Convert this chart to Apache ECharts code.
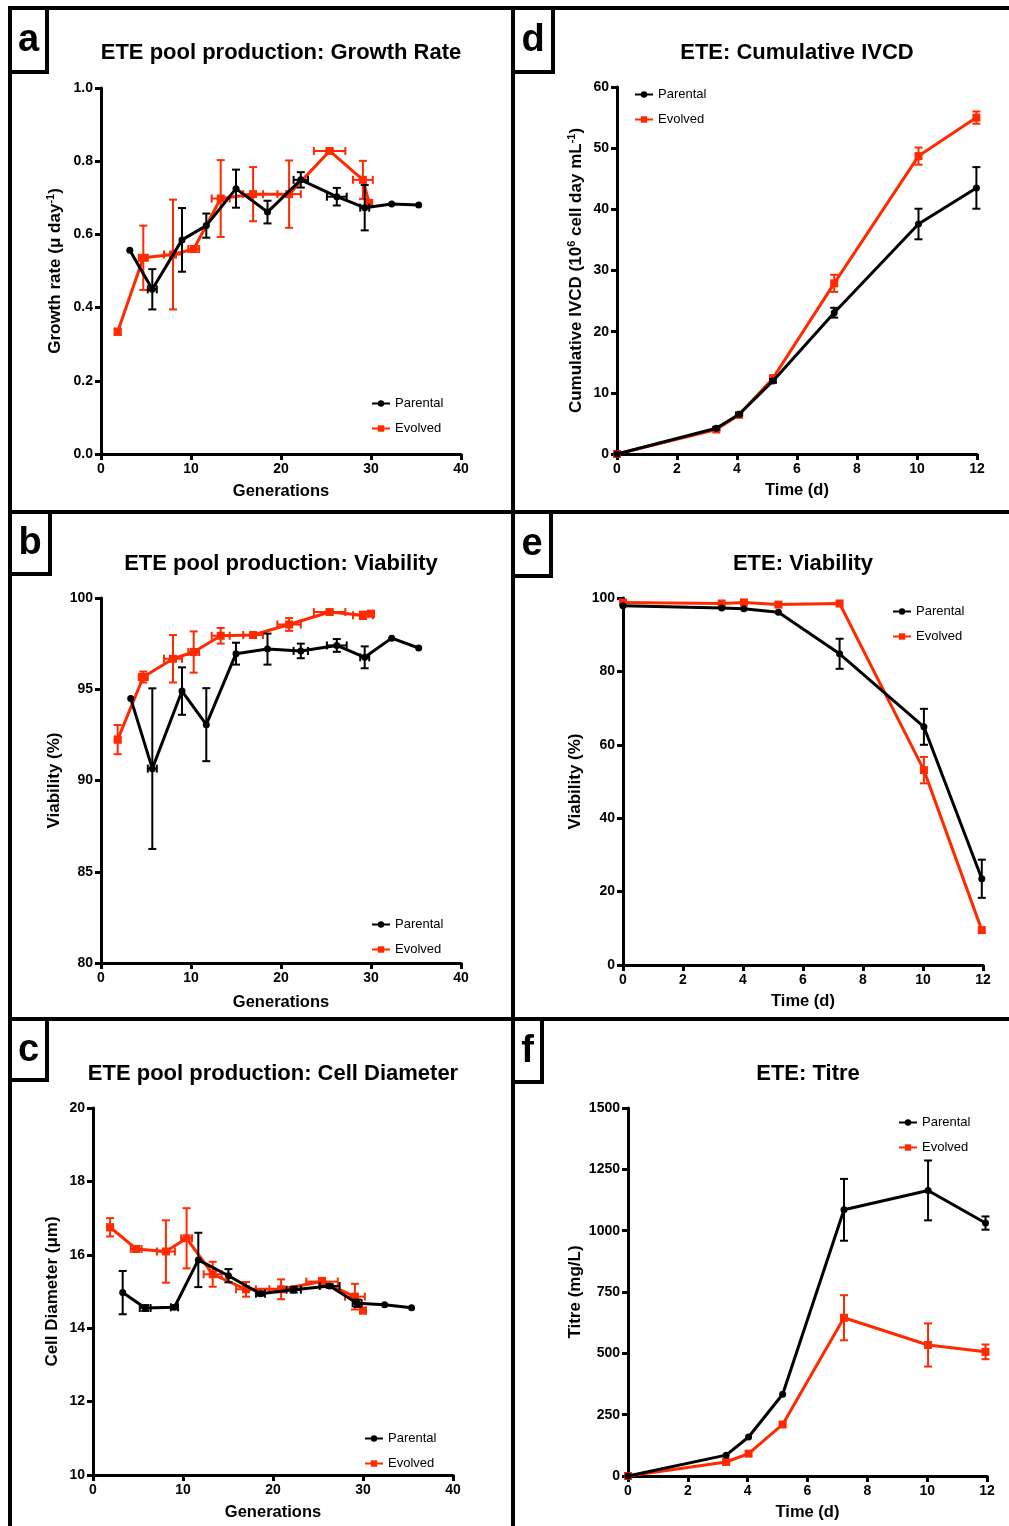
<!DOCTYPE html>
<html>
<head>
<meta charset="utf-8">
<script src="https://cdn.jsdelivr.net/npm/echarts/dist/echarts.min.js"></script>
<style>
html,body{margin:0;padding:0;background:#fff;}
#chart{width:1009px;height:1526px;}
</style>
</head>
<body>
<div id="chart"></div>
<script>
// ---------- DATA ----------
// Panel a: Growth rate vs generations
const grParGen  = [3.2, 5.7, 9.0, 11.7, 15.0, 18.5, 22.2, 26.2, 29.3, 32.3, 35.3];
const grParVal  = [0.557, 0.45, 0.585, 0.624, 0.725, 0.661, 0.749, 0.703, 0.673, 0.683, 0.68];
const grParErr  = [0, 0.055, 0.087, 0.033, 0.052, 0.031, 0.021, 0.024, 0.062, 0, 0];
const grParXErr = [0, 0.5, 0, 0, 0, 0, 0.8, 1.1, 0.5, 0, 0];
const grEvoGen  = [1.85, 4.7, 8.0, 10.3, 13.3, 16.9, 20.9, 25.4, 29.1, 29.8];
const grEvoVal  = [0.334, 0.536, 0.545, 0.56, 0.698, 0.71, 0.71, 0.828, 0.749, 0.686];
const grEvoErr  = [0.008, 0.088, 0.15, 0.008, 0.105, 0.074, 0.092, 0.005, 0.052, 0];
const grEvoXErr = [0.3, 0.5, 1.0, 0.6, 1.0, 1.1, 1.3, 1.75, 1.1, 0];

// Panel b: Viability vs generations
const vbParGen  = [3.3, 5.7, 9.0, 11.7, 15.0, 18.5, 22.2, 26.2, 29.3, 32.3, 35.3];
const vbParVal  = [94.5, 90.65, 94.9, 93.06, 96.95, 97.2, 97.1, 97.4, 96.75, 97.8, 97.26];
const vbParErr  = [0, 4.4, 1.3, 2.0, 0.6, 0.85, 0.4, 0.35, 0.6, 0, 0];
const vbParXErr = [0, 0.5, 0, 0, 0, 0, 0.8, 1.1, 0.5, 0, 0];
const vbEvoGen  = [1.85, 4.7, 8.0, 10.3, 13.3, 16.9, 20.9, 25.4, 29.1, 30.0];
const vbEvoVal  = [92.24, 95.67, 96.67, 97.04, 97.93, 97.97, 98.55, 99.23, 99.05, 99.14];
const vbEvoErr  = [0.8, 0.3, 1.3, 1.13, 0.43, 0.1, 0.35, 0.1, 0.2, 0.1];
const vbEvoXErr = [0.3, 0.5, 1.0, 0.6, 1.0, 1.1, 1.3, 1.75, 1.1, 0.3];

// Panel c: Cell diameter vs generations
const cdParGen  = [3.3, 5.8, 9.05, 11.7, 15.05, 18.6, 22.3, 26.3, 29.35, 32.4, 35.4];
const cdParVal  = [14.97, 14.55, 14.57, 15.86, 15.43, 14.94, 15.05, 15.15, 14.68, 14.64, 14.56];
const cdParErr  = [0.59, 0.08, 0.05, 0.74, 0.18, 0.05, 0.08, 0.05, 0.1, 0, 0];
const cdParXErr = [0, 0.6, 0.4, 0, 0, 0.5, 0.8, 1.1, 0.5, 0, 0];
const cdEvoGen  = [1.9, 4.8, 8.1, 10.4, 13.3, 17.0, 20.9, 25.45, 29.1, 30.0];
const cdEvoVal  = [16.75, 16.16, 16.09, 16.45, 15.47, 15.06, 15.06, 15.27, 14.86, 14.48];
const cdEvoErr  = [0.25, 0.08, 0.85, 0.82, 0.34, 0.2, 0.27, 0.1, 0.35, 0.05];
const cdEvoXErr = [0.3, 0.6, 1.0, 0.6, 1.0, 1.1, 1.3, 1.75, 1.1, 0.3];

// Panel d: Cumulative IVCD vs time
const ivParDay = [0, 3.31, 4.07, 5.2, 7.24, 10.05, 11.98];
const ivParVal = [0, 4.2, 6.5, 11.95, 23.1, 37.6, 43.5];
const ivParErr = [0, 0.2, 0.2, 0.3, 0.8, 2.5, 3.4];
const ivEvoDay = [0, 3.31, 4.07, 5.2, 7.24, 10.05, 11.98];
const ivEvoVal = [0, 4.0, 6.4, 12.4, 27.9, 48.7, 55.0];
const ivEvoErr = [0, 0.2, 0.2, 0.4, 1.4, 1.4, 1.0];

// Panel e: Viability vs time
const viParDay = [0, 3.29, 4.03, 5.18, 7.22, 10.03, 11.96];
const viParVal = [97.9, 97.3, 97.1, 96.1, 84.8, 64.9, 23.5];
const viParErr = [0, 0, 0, 0, 4.1, 4.9, 5.2];
const viEvoDay = [0, 3.29, 4.03, 5.18, 7.22, 10.03, 11.96];
const viEvoVal = [98.8, 98.5, 98.8, 98.2, 98.5, 53.1, 9.5];
const viEvoErr = [0, 0, 0, 0, 0, 3.6, 0];

// Panel f: Titre vs time
const tiParDay = [0, 3.28, 4.03, 5.17, 7.22, 10.03, 11.95];
const tiParVal = [0, 85, 159, 333, 1085, 1164, 1031];
const tiParErr = [0, 0, 0, 0, 126, 122, 27];
const tiEvoDay = [0, 3.28, 4.03, 5.17, 7.22, 10.03, 11.95];
const tiEvoVal = [0, 57, 91, 210, 645, 534, 506];
const tiEvoErr = [0, 0, 0, 0, 92, 88, 30];

// ---------- STYLE ----------
const FONT = '"Liberation Sans", Arial, Helvetica, sans-serif';
const BLACK = '#000000';
const RED = '#ff2a00';

const chart = echarts.init(document.getElementById('chart'), null, {renderer: 'canvas'});

function pts(xs, ys) { return xs.map((x, i) => [x, ys[i]]); }
function errPts(xs, ys, ey, ex) { return xs.map((x, i) => [x, ys[i], ey[i], ex ? ex[i] : 0]); }

function errRender(color) {
  return function (params, api) {
    const x = api.value(0), y = api.value(1), ey = api.value(2), ex = api.value(3);
    const children = [];
    const cap = 4;
    const st = {stroke: color, lineWidth: 2};
    if (ey > 0) {
      const t = api.coord([x, y + ey]), b = api.coord([x, y - ey]);
      children.push({type: 'line', shape: {x1: t[0], y1: t[1], x2: b[0], y2: b[1]}, style: st});
      children.push({type: 'line', shape: {x1: t[0] - cap, y1: t[1], x2: t[0] + cap, y2: t[1]}, style: st});
      children.push({type: 'line', shape: {x1: b[0] - cap, y1: b[1], x2: b[0] + cap, y2: b[1]}, style: st});
    }
    if (ex > 0) {
      const l = api.coord([x - ex, y]), r = api.coord([x + ex, y]);
      children.push({type: 'line', shape: {x1: l[0], y1: l[1], x2: r[0], y2: r[1]}, style: st});
      children.push({type: 'line', shape: {x1: l[0], y1: l[1] - cap, x2: l[0], y2: l[1] + cap}, style: st});
      children.push({type: 'line', shape: {x1: r[0], y1: r[1] - cap, x2: r[0], y2: r[1] + cap}, style: st});
    }
    return {type: 'group', children: children};
  };
}

const grids = [
  {left: 101, top: 88,   width: 360, height: 366},  // a
  {left: 101, top: 598,  width: 360, height: 365},  // b
  {left: 93,  top: 1108, width: 360, height: 367},  // c
  {left: 617, top: 87,   width: 360, height: 367},  // d
  {left: 623, top: 598,  width: 360, height: 367},  // e
  {left: 628, top: 1108, width: 359, height: 368}   // f
];

const axisLine = {show: true, lineStyle: {color: BLACK, width: 3}};
const axisTick = {show: true, inside: false, length: 6, lineStyle: {color: BLACK, width: 3}};
const axisLabelStyle = {color: BLACK, fontFamily: FONT, fontWeight: 'bold', fontSize: 14};
const nameStyle = {color: BLACK, fontFamily: FONT, fontWeight: 'bold', fontSize: 16.5};
const yNameStyle = {
  color: BLACK, fontFamily: FONT, fontWeight: 'bold', fontSize: 17, lineHeight: 20,
  rich: {sup: {fontSize: 11, fontWeight: 'bold', fontFamily: FONT, color: BLACK, verticalAlign: 'top', lineHeight: 11}}
};

function xAxis(gi, max, interval, name, gap) {
  return {
    type: 'value', gridIndex: gi, min: 0, max: max, interval: interval,
    name: name, nameLocation: 'middle', nameGap: gap, nameTextStyle: nameStyle,
    axisLine: axisLine, axisTick: axisTick, splitLine: {show: false},
    axisLabel: Object.assign({margin: 8, formatter: v => String(v)}, axisLabelStyle)
  };
}
function yAxis(gi, min, max, interval, name, gap, fmt) {
  return {
    type: 'value', gridIndex: gi, min: min, max: max, interval: interval,
    name: name, nameLocation: 'middle', nameGap: gap, nameRotate: 90, nameTextStyle: yNameStyle,
    axisLine: axisLine, axisTick: axisTick, splitLine: {show: false},
    axisLabel: Object.assign({margin: 8, formatter: fmt || (v => String(v))}, axisLabelStyle)
  };
}

const xAxes = [
  xAxis(0, 40, 10, 'Generations', 29),
  xAxis(1, 40, 10, 'Generations', 31),
  xAxis(2, 40, 10, 'Generations', 29),
  xAxis(3, 12, 2, 'Time (d)', 28),
  xAxis(4, 12, 2, 'Time (d)', 28),
  xAxis(5, 12, 2, 'Time (d)', 28)
];
const yAxes = [
  yAxis(0, 0, 1, 0.2, 'Growth rate (\u03bc day{sup|-1})', 36, v => v.toFixed(1)),
  yAxis(1, 80, 100, 5, 'Viability (%)', 37),
  yAxis(2, 10, 20, 2, 'Cell Diameter (\u03bcm)', 31),
  yAxis(3, 0, 60, 10, 'Cumulative IVCD (10{sup|6} cell day mL{sup|-1})', 31),
  yAxis(4, 0, 100, 20, 'Viability (%)', 38),
  yAxis(5, 0, 1500, 250, 'Titre (mg/L)', 43)
];

const panels = [
  [grParGen, grParVal, grParErr, grParXErr, grEvoGen, grEvoVal, grEvoErr, grEvoXErr],
  [vbParGen, vbParVal, vbParErr, vbParXErr, vbEvoGen, vbEvoVal, vbEvoErr, vbEvoXErr],
  [cdParGen, cdParVal, cdParErr, cdParXErr, cdEvoGen, cdEvoVal, cdEvoErr, cdEvoXErr],
  [ivParDay, ivParVal, ivParErr, null, ivEvoDay, ivEvoVal, ivEvoErr, null],
  [viParDay, viParVal, viParErr, null, viEvoDay, viEvoVal, viEvoErr, null],
  [tiParDay, tiParVal, tiParErr, null, tiEvoDay, tiEvoVal, tiEvoErr, null]
];

const series = [];
panels.forEach((p, i) => {
  series.push({
    name: 'Evolved', type: 'line', xAxisIndex: i, yAxisIndex: i,
    data: pts(p[4], p[5]), symbol: 'rect', symbolSize: 8, showAllSymbol: true,
    itemStyle: {color: RED}, lineStyle: {color: RED, width: 3}, z: 2
  });
  series.push({
    name: 'errE' + i, type: 'custom', xAxisIndex: i, yAxisIndex: i,
    data: errPts(p[4], p[5], p[6], p[7]), encode: {x: 0, y: 1},
    renderItem: errRender(RED), z: 2, silent: true
  });
  series.push({
    name: 'Parental', type: 'line', xAxisIndex: i, yAxisIndex: i,
    data: pts(p[0], p[1]), symbol: 'circle', symbolSize: 7, showAllSymbol: true,
    itemStyle: {color: BLACK}, lineStyle: {color: BLACK, width: 3}, z: 3
  });
  series.push({
    name: 'errP' + i, type: 'custom', xAxisIndex: i, yAxisIndex: i,
    data: errPts(p[0], p[1], p[2], p[3]), encode: {x: 0, y: 1},
    renderItem: errRender(BLACK), z: 3, silent: true
  });
});

const legendPos = [[366, 392], [366, 913], [359, 1427], [629, 83], [887, 600], [893, 1111]];
const legends = legendPos.map(p => ({
  data: ['Parental', 'Evolved'], orient: 'vertical', left: p[0], top: p[1],
  itemWidth: 18, itemHeight: 8, itemGap: 12, selectedMode: false,
  textStyle: {color: BLACK, fontFamily: FONT, fontSize: 13}
}));

const titles = [
  ['ETE pool production: Growth Rate', 281, 53],
  ['ETE pool production: Viability', 281, 564],
  ['ETE pool production: Cell Diameter', 273, 1074],
  ['ETE: Cumulative IVCD', 797, 53],
  ['ETE: Viability', 803, 564],
  ['ETE: Titre', 808, 1074]
];
const letters = [
  ['a', 10, 8, 37, 64],
  ['b', 10, 512, 40, 62],
  ['c', 10, 1019, 37, 61],
  ['d', 513, 8, 40, 64],
  ['e', 513, 512, 38, 64],
  ['f', 513, 1019, 29, 63]
];

const graphics = [];
const frameStyle = {stroke: BLACK, lineWidth: 4};
[[8, 8, 1009, 8], [10, 512, 1009, 512], [10, 1019, 1009, 1019], [10, 6, 10, 1526], [513, 6, 513, 1526]]
  .forEach(l => graphics.push({type: 'line', shape: {x1: l[0], y1: l[1], x2: l[2], y2: l[3]}, style: frameStyle, z: 100}));
letters.forEach(l => {
  graphics.push({type: 'rect', shape: {x: l[1], y: l[2], width: l[3], height: l[4]},
    style: {fill: '#fff', stroke: BLACK, lineWidth: 4}, z: 101});
  graphics.push({type: 'text', x: l[1] + l[3] / 2, y: l[2] + l[4] / 2 + 1, z: 102,
    style: {text: l[0], fill: BLACK, font: 'bold 38px ' + FONT, textAlign: 'center', textVerticalAlign: 'middle'}});
});
titles.forEach(t => graphics.push({type: 'text', x: t[1], y: t[2], z: 102,
  style: {text: t[0], fill: BLACK, font: 'bold 22px ' + FONT, textAlign: 'center', textVerticalAlign: 'middle'}}));

chart.setOption({
  animation: false,
  backgroundColor: '#ffffff',
  grid: grids,
  xAxis: xAxes,
  yAxis: yAxes,
  legend: legends,
  series: series,
  graphic: graphics
});
</script>
</body>
</html>
